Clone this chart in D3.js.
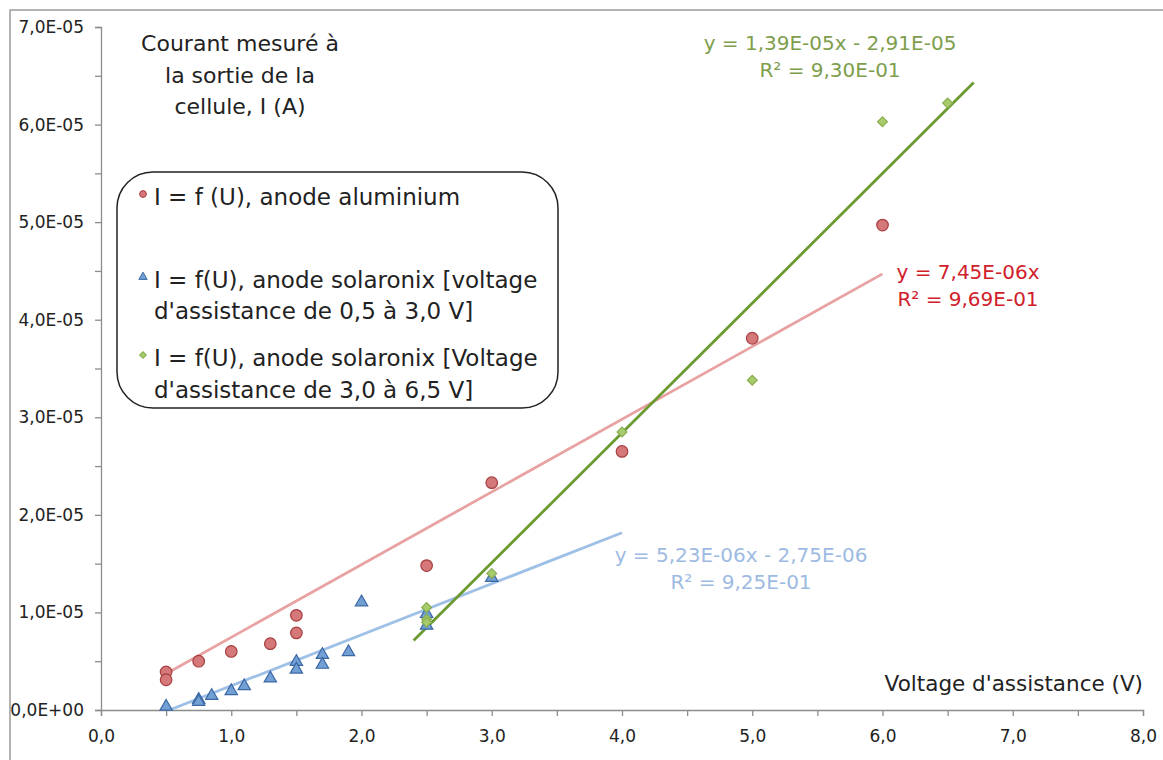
<!DOCTYPE html>
<html><head><meta charset="utf-8">
<script src="https://cdn.jsdelivr.net/npm/d3@7"></script>
<style>body{margin:0;background:#fff}svg{display:block}text{font-family:"DejaVu Sans",Verdana,sans-serif}</style>
</head><body><svg id="c" width="1163" height="760"></svg>
<script>
// ---- data ----
const aluX = [0.5, 0.5, 0.75, 1.0, 1.3, 1.5, 1.5, 2.5, 3.0, 4.0, 5.0, 6.0];
const aluY = [3.9e-6, 3.1e-6, 5.0e-6, 6.0e-6, 6.8e-6, 9.7e-6, 7.9e-6, 1.48e-5, 2.33e-5, 2.65e-5, 3.81e-5, 4.97e-5];
const lowX = [0.5, 0.75, 0.75, 0.85, 1.0, 1.1, 1.3, 1.5, 1.5, 1.7, 1.7, 1.9, 2.0, 2.5, 2.5, 3.0];
const lowY = [5e-7, 1.2e-6, 1.0e-6, 1.6e-6, 2.1e-6, 2.6e-6, 3.4e-6, 5.1e-6, 4.3e-6, 5.8e-6, 4.8e-6, 6.1e-6, 1.12e-5, 1.0e-5, 8.8e-6, 1.37e-5];
const highX = [2.5, 2.5, 2.5, 3.0, 4.0, 5.0, 6.0, 6.5];
const highY = [1.05e-5, 9.3e-6, 9.0e-6, 1.40e-5, 2.85e-5, 3.38e-5, 6.03e-5, 6.22e-5];

const trendNames = ["alu", "low", "high"];
// trendlines as drawn in the picture (slope, intercept, x-range)
const trendSlope = [7.45e-6, 5.23e-6, 1.33e-5];
const trendIntercept = [0, -2.75e-6, -2.48e-5];
const trendFrom = [0.5, 0.5, 2.4];
const trendTo = [6.0, 4.0, 6.7];
const trendEq = ["y = 7,45E-06x", "y = 5,23E-06x - 2,75E-06", "y = 1,39E-05x - 2,91E-05"];
const trendR2 = ["R² = 9,69E-01", "R² = 9,25E-01", "R² = 9,30E-01"];

const legendLabels = [
  ["I = f (U), anode aluminium"],
  ["I = f(U), anode solaronix [voltage", "d'assistance de 0,5 à 3,0 V]"],
  ["I = f(U), anode solaronix [Voltage", "d'assistance de 3,0 à 6,5 V]"]
];
const titleLines = ["Courant mesuré à", "la sortie de la", "cellule, I (A)"];
const xTitle = "Voltage d'assistance  (V)";
const xTicks = [0, 1, 2, 3, 4, 5, 6, 7, 8];
const xTickLabels = ["0,0", "1,0", "2,0", "3,0", "4,0", "5,0", "6,0", "7,0", "8,0"];
const yTicks = [0, 1e-5, 2e-5, 3e-5, 4e-5, 5e-5, 6e-5, 7e-5];
const yTickLabels = ["0,0E+00", "1,0E-05", "2,0E-05", "3,0E-05", "4,0E-05", "5,0E-05", "6,0E-05", "7,0E-05"];

// ---- styles ----
const seriesStyle = {
  alu: {fill: "#d4787a", stroke: "#a83e40", line: "#e8a2a2", text: "#d0202a"},
  low: {fill: "#729fd4", stroke: "#3a68a4", line: "#9fc0e6", text: "#9dbbe2"},
  high: {fill: "#a8cc6c", stroke: "#86ad4e", line: "#6b9a30", text: "#7e9e4c"}
};

const svg = d3.select("#c");
const x = d3.scaleLinear().domain([0, 8]).range([101, 1143]);
const y = d3.scaleLinear().domain([0, 7e-5]).range([710, 27]);

// outer chart border
svg.append("rect").attr("x", 10).attr("y", 10).attr("width", 1300).attr("height", 900)
  .attr("fill", "none").attr("stroke", "#8c8c8c").attr("stroke-width", 1.3);

svg.append("defs").append("clipPath").attr("id", "plot")
  .append("rect").attr("x", x(0)).attr("y", y(7e-5)).attr("width", x(8) - x(0)).attr("height", y(0) - y(7e-5));

// axes
const axisColor = "#8c8c8c";
const yHalf = yTicks.slice(0, -1).map((v, i) => (v + yTicks[i + 1]) / 2);
const xHalf = xTicks.slice(0, -1).map((v, i) => (v + xTicks[i + 1]) / 2);

svg.append("g").attr("transform", `translate(${x(0)},0)`)
  .call(d3.axisLeft(y).tickValues(yTicks).tickFormat((d, i) => yTickLabels[i]).tickSize(6).tickPadding(11));
svg.append("g").attr("transform", `translate(${x(0)},0)`)
  .call(d3.axisLeft(y).tickValues(yHalf).tickFormat("").tickSize(6)).select(".domain").remove();
svg.append("g").attr("transform", `translate(0,${y(0)})`)
  .call(d3.axisBottom(x).tickValues(xTicks).tickFormat((d, i) => xTickLabels[i]).tickSize(6).tickPadding(14));
svg.append("g").attr("transform", `translate(0,${y(0)})`)
  .call(d3.axisBottom(x).tickValues(xHalf).tickFormat("").tickSize(6)).select(".domain").remove();
svg.selectAll(".domain").attr("stroke", axisColor).attr("stroke-width", 1.3);
svg.selectAll(".tick line").attr("stroke", axisColor).attr("stroke-width", 1.3);
svg.selectAll(".tick text").attr("font-family", "DejaVu Sans").attr("font-size", 17).attr("fill", "#222");

// axis title
svg.append("text").attr("x", x(8)).attr("y", 691).attr("text-anchor", "end")
  .attr("font-size", 21.5).attr("fill", "#222").text(xTitle);

// title
svg.append("g").selectAll("text").data(titleLines).join("text")
  .attr("x", 240).attr("y", (d, i) => 51 + i * 31.5).attr("text-anchor", "middle")
  .attr("font-size", 22).attr("fill", "#222").text(d => d);

// trendlines
const plotG = svg.append("g").attr("clip-path", "url(#plot)");
trendNames.forEach((n, i) => {
  const pts = [trendFrom[i], trendTo[i]].map(v => [x(v), y(trendSlope[i] * v + trendIntercept[i])]);
  plotG.append("path").attr("d", d3.line()(pts)).attr("fill", "none")
    .attr("stroke", seriesStyle[n].line).attr("stroke-width", 2.8);
});

// markers
const sym = {
  alu: d3.symbol().type(d3.symbolCircle).size(105),
  low: d3.symbol().type(d3.symbolTriangle).size(66),
  high: d3.symbol().type(d3.symbolSquare).size(48)
};
const rot = {alu: 0, low: 0, high: 45};
const seriesData = {alu: [aluX, aluY], low: [lowX, lowY], high: [highX, highY]};
trendNames.forEach(n => {
  const [xs, ys] = seriesData[n];
  svg.append("g").selectAll("path").data(xs.map((v, i) => [v, ys[i]])).join("path")
    .attr("d", sym[n]())
    .attr("transform", d => `translate(${x(d[0])},${y(d[1]) + (n === "low" ? 1.5 : 0)}) rotate(${rot[n]})`)
    .attr("fill", seriesStyle[n].fill).attr("stroke", seriesStyle[n].stroke).attr("stroke-width", 1.2);
});

// trendline equations
const eqPos = {alu: [968, 279], low: [741, 562], high: [830, 50]};
trendNames.forEach((n, i) => {
  const g = svg.append("g").attr("fill", seriesStyle[n].text).attr("font-size", 20).attr("text-anchor", "middle");
  g.append("text").attr("x", eqPos[n][0]).attr("y", eqPos[n][1]).text(trendEq[i]);
  g.append("text").attr("x", eqPos[n][0]).attr("y", eqPos[n][1] + 27).text(trendR2[i]);
});

// legend
svg.append("rect").attr("x", 117).attr("y", 172).attr("width", 441).attr("height", 236).attr("rx", 36)
  .attr("fill", "#fff").attr("stroke", "#222").attr("stroke-width", 1.5);
const legY = [[197], [280, 311], [358, 390]];
const legSym = {
  alu: d3.symbol().type(d3.symbolCircle).size(36),
  low: d3.symbol().type(d3.symbolTriangle).size(30),
  high: d3.symbol().type(d3.symbolSquare).size(22)
};
trendNames.forEach((n, i) => {
  svg.append("path").attr("d", legSym[n]())
    .attr("transform", `translate(143,${legY[i][0] - 3}) rotate(${rot[n]})`)
    .attr("fill", seriesStyle[n].fill).attr("stroke", seriesStyle[n].stroke).attr("stroke-width", 1);
  legendLabels[i].forEach((t, j) => {
    svg.append("text").attr("x", 154).attr("y", legY[i][j] + 8).attr("font-size", 23)
      .attr("fill", "#222").text(t);
  });
});
</script></body></html>
